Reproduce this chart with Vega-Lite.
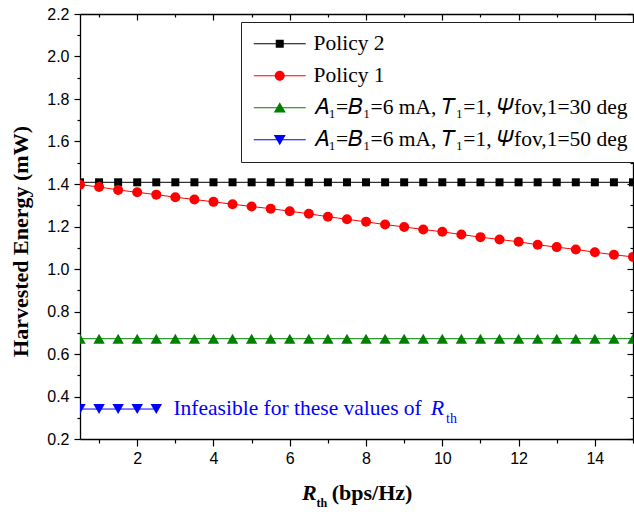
{
  "$schema": "https://vega.github.io/schema/vega-lite/v6.json",
  "width": 553,
  "height": 425,
  "autosize": {"type": "none"},
  "padding": {"left": 80, "top": 14, "right": 1, "bottom": 73},
  "background": "white",
  "config": {
    "view": {"stroke": null},
    "axis": {
      "grid": false,
      "domainColor": "black",
      "domainWidth": 1.3,
      "tickColor": "black",
      "tickWidth": 1.2,
      "labelFont": "Liberation Sans",
      "labelFontSize": 16,
      "labelColor": "black",
      "labelFlush": false,
      "labelOverlap": false
    }
  },
  "datasets": {
    "main": [
      {"s": "Policy 2", "x": 0.5, "y": 1.408}, {"s": "Policy 2", "x": 1, "y": 1.408}, {"s": "Policy 2", "x": 1.5, "y": 1.408}, {"s": "Policy 2", "x": 2, "y": 1.408}, {"s": "Policy 2", "x": 2.5, "y": 1.408}, {"s": "Policy 2", "x": 3, "y": 1.408}, {"s": "Policy 2", "x": 3.5, "y": 1.408}, {"s": "Policy 2", "x": 4, "y": 1.408}, {"s": "Policy 2", "x": 4.5, "y": 1.408}, {"s": "Policy 2", "x": 5, "y": 1.408}, {"s": "Policy 2", "x": 5.5, "y": 1.408}, {"s": "Policy 2", "x": 6, "y": 1.408}, {"s": "Policy 2", "x": 6.5, "y": 1.408}, {"s": "Policy 2", "x": 7, "y": 1.408}, {"s": "Policy 2", "x": 7.5, "y": 1.408}, {"s": "Policy 2", "x": 8, "y": 1.408}, {"s": "Policy 2", "x": 8.5, "y": 1.408}, {"s": "Policy 2", "x": 9, "y": 1.408}, {"s": "Policy 2", "x": 9.5, "y": 1.408}, {"s": "Policy 2", "x": 10, "y": 1.408}, {"s": "Policy 2", "x": 10.5, "y": 1.408}, {"s": "Policy 2", "x": 11, "y": 1.408}, {"s": "Policy 2", "x": 11.5, "y": 1.408}, {"s": "Policy 2", "x": 12, "y": 1.408}, {"s": "Policy 2", "x": 12.5, "y": 1.408}, {"s": "Policy 2", "x": 13, "y": 1.408}, {"s": "Policy 2", "x": 13.5, "y": 1.408}, {"s": "Policy 2", "x": 14, "y": 1.408}, {"s": "Policy 2", "x": 14.5, "y": 1.408}, {"s": "Policy 2", "x": 15, "y": 1.408},
      {"s": "Policy 1", "x": 0.5, "y": 1.397}, {"s": "Policy 1", "x": 1, "y": 1.386}, {"s": "Policy 1", "x": 1.5, "y": 1.372}, {"s": "Policy 1", "x": 2, "y": 1.361}, {"s": "Policy 1", "x": 2.5, "y": 1.35}, {"s": "Policy 1", "x": 3, "y": 1.338}, {"s": "Policy 1", "x": 3.5, "y": 1.327}, {"s": "Policy 1", "x": 4, "y": 1.316}, {"s": "Policy 1", "x": 4.5, "y": 1.305}, {"s": "Policy 1", "x": 5, "y": 1.294}, {"s": "Policy 1", "x": 5.5, "y": 1.284}, {"s": "Policy 1", "x": 6, "y": 1.272}, {"s": "Policy 1", "x": 6.5, "y": 1.26}, {"s": "Policy 1", "x": 7, "y": 1.246}, {"s": "Policy 1", "x": 7.5, "y": 1.234}, {"s": "Policy 1", "x": 8, "y": 1.222}, {"s": "Policy 1", "x": 8.5, "y": 1.209}, {"s": "Policy 1", "x": 9, "y": 1.198}, {"s": "Policy 1", "x": 9.5, "y": 1.186}, {"s": "Policy 1", "x": 10, "y": 1.175}, {"s": "Policy 1", "x": 10.5, "y": 1.162}, {"s": "Policy 1", "x": 11, "y": 1.15}, {"s": "Policy 1", "x": 11.5, "y": 1.139}, {"s": "Policy 1", "x": 12, "y": 1.128}, {"s": "Policy 1", "x": 12.5, "y": 1.114}, {"s": "Policy 1", "x": 13, "y": 1.103}, {"s": "Policy 1", "x": 13.5, "y": 1.092}, {"s": "Policy 1", "x": 14, "y": 1.079}, {"s": "Policy 1", "x": 14.5, "y": 1.067}, {"s": "Policy 1", "x": 15, "y": 1.057},
      {"s": "𝐴₁=𝐵₁=6 mA, 𝑇₁=1, 𝛹fov,1=30 deg", "x": 0.5, "y": 0.672}, {"s": "𝐴₁=𝐵₁=6 mA, 𝑇₁=1, 𝛹fov,1=30 deg", "x": 1, "y": 0.672}, {"s": "𝐴₁=𝐵₁=6 mA, 𝑇₁=1, 𝛹fov,1=30 deg", "x": 1.5, "y": 0.672}, {"s": "𝐴₁=𝐵₁=6 mA, 𝑇₁=1, 𝛹fov,1=30 deg", "x": 2, "y": 0.672}, {"s": "𝐴₁=𝐵₁=6 mA, 𝑇₁=1, 𝛹fov,1=30 deg", "x": 2.5, "y": 0.672}, {"s": "𝐴₁=𝐵₁=6 mA, 𝑇₁=1, 𝛹fov,1=30 deg", "x": 3, "y": 0.672}, {"s": "𝐴₁=𝐵₁=6 mA, 𝑇₁=1, 𝛹fov,1=30 deg", "x": 3.5, "y": 0.672}, {"s": "𝐴₁=𝐵₁=6 mA, 𝑇₁=1, 𝛹fov,1=30 deg", "x": 4, "y": 0.672}, {"s": "𝐴₁=𝐵₁=6 mA, 𝑇₁=1, 𝛹fov,1=30 deg", "x": 4.5, "y": 0.672}, {"s": "𝐴₁=𝐵₁=6 mA, 𝑇₁=1, 𝛹fov,1=30 deg", "x": 5, "y": 0.672}, {"s": "𝐴₁=𝐵₁=6 mA, 𝑇₁=1, 𝛹fov,1=30 deg", "x": 5.5, "y": 0.672}, {"s": "𝐴₁=𝐵₁=6 mA, 𝑇₁=1, 𝛹fov,1=30 deg", "x": 6, "y": 0.672}, {"s": "𝐴₁=𝐵₁=6 mA, 𝑇₁=1, 𝛹fov,1=30 deg", "x": 6.5, "y": 0.672}, {"s": "𝐴₁=𝐵₁=6 mA, 𝑇₁=1, 𝛹fov,1=30 deg", "x": 7, "y": 0.672}, {"s": "𝐴₁=𝐵₁=6 mA, 𝑇₁=1, 𝛹fov,1=30 deg", "x": 7.5, "y": 0.672}, {"s": "𝐴₁=𝐵₁=6 mA, 𝑇₁=1, 𝛹fov,1=30 deg", "x": 8, "y": 0.672}, {"s": "𝐴₁=𝐵₁=6 mA, 𝑇₁=1, 𝛹fov,1=30 deg", "x": 8.5, "y": 0.672}, {"s": "𝐴₁=𝐵₁=6 mA, 𝑇₁=1, 𝛹fov,1=30 deg", "x": 9, "y": 0.672}, {"s": "𝐴₁=𝐵₁=6 mA, 𝑇₁=1, 𝛹fov,1=30 deg", "x": 9.5, "y": 0.672}, {"s": "𝐴₁=𝐵₁=6 mA, 𝑇₁=1, 𝛹fov,1=30 deg", "x": 10, "y": 0.672}, {"s": "𝐴₁=𝐵₁=6 mA, 𝑇₁=1, 𝛹fov,1=30 deg", "x": 10.5, "y": 0.672}, {"s": "𝐴₁=𝐵₁=6 mA, 𝑇₁=1, 𝛹fov,1=30 deg", "x": 11, "y": 0.672}, {"s": "𝐴₁=𝐵₁=6 mA, 𝑇₁=1, 𝛹fov,1=30 deg", "x": 11.5, "y": 0.672}, {"s": "𝐴₁=𝐵₁=6 mA, 𝑇₁=1, 𝛹fov,1=30 deg", "x": 12, "y": 0.672}, {"s": "𝐴₁=𝐵₁=6 mA, 𝑇₁=1, 𝛹fov,1=30 deg", "x": 12.5, "y": 0.672}, {"s": "𝐴₁=𝐵₁=6 mA, 𝑇₁=1, 𝛹fov,1=30 deg", "x": 13, "y": 0.672}, {"s": "𝐴₁=𝐵₁=6 mA, 𝑇₁=1, 𝛹fov,1=30 deg", "x": 13.5, "y": 0.672}, {"s": "𝐴₁=𝐵₁=6 mA, 𝑇₁=1, 𝛹fov,1=30 deg", "x": 14, "y": 0.672}, {"s": "𝐴₁=𝐵₁=6 mA, 𝑇₁=1, 𝛹fov,1=30 deg", "x": 14.5, "y": 0.672}, {"s": "𝐴₁=𝐵₁=6 mA, 𝑇₁=1, 𝛹fov,1=30 deg", "x": 15, "y": 0.672},
      {"s": "𝐴₁=𝐵₁=6 mA, 𝑇₁=1, 𝛹fov,1=50 deg", "x": 0.5, "y": 0.341}, {"s": "𝐴₁=𝐵₁=6 mA, 𝑇₁=1, 𝛹fov,1=50 deg", "x": 1, "y": 0.341}, {"s": "𝐴₁=𝐵₁=6 mA, 𝑇₁=1, 𝛹fov,1=50 deg", "x": 1.5, "y": 0.341}, {"s": "𝐴₁=𝐵₁=6 mA, 𝑇₁=1, 𝛹fov,1=50 deg", "x": 2, "y": 0.341}, {"s": "𝐴₁=𝐵₁=6 mA, 𝑇₁=1, 𝛹fov,1=50 deg", "x": 2.5, "y": 0.341}
    ]
  },
  "data": {"name": "main"},
  "layer": [
    {
      "mark": {"type": "line", "strokeWidth": 1, "clip": true},
      "encoding": {
        "x": {
          "field": "x", "type": "quantitative",
          "scale": {"domain": [0.5, 15], "nice": false, "zero": false},
          "axis": {
            "orient": "bottom",
            "values": [1, 2, 3, 4, 5, 6, 7, 8, 9, 10, 11, 12, 13, 14, 15],
            "labelExpr": "round(datum.value) % 2 === 0 ? datum.label : ''",
            "tickSize": {"condition": {"test": "round(datum.value) % 2 === 0", "value": 7}, "value": 4},
            "labelPadding": 4,
            "title": null
          }
        },
        "y": {
          "field": "y", "type": "quantitative",
          "scale": {"domain": [0.2, 2.2], "nice": false, "zero": false},
          "axis": {
            "orient": "left",
            "values": [0.2, 0.3, 0.4, 0.5, 0.6, 0.7, 0.8, 0.9, 1.0, 1.1, 1.2, 1.3, 1.4, 1.5, 1.6, 1.7, 1.8, 1.9, 2.0, 2.1, 2.2],
            "labelExpr": "round(datum.value * 10) % 2 === 0 ? format(datum.value, '.1f') : ''",
            "tickSize": {"condition": {"test": "round(datum.value * 10) % 2 === 0", "value": 6}, "value": 3},
            "labelPadding": 5,
            "title": "Harvested Energy (mW)",
            "titleFont": "Liberation Serif",
            "titleFontSize": 22,
            "titleFontWeight": "bold",
            "titleColor": "black",
            "titleAngle": -90,
            "titleAlign": "center",
            "titleBaseline": "middle",
            "titleX": -60,
            "titleY": 227
          }
        },
        "color": {
          "field": "s", "type": "nominal",
          "scale": {
            "domain": ["Policy 2", "Policy 1", "𝐴₁=𝐵₁=6 mA, 𝑇₁=1, 𝛹fov,1=30 deg", "𝐴₁=𝐵₁=6 mA, 𝑇₁=1, 𝛹fov,1=50 deg"],
            "range": ["#000000", "#FF0000", "#008000", "#0000FF"]
          },
          "legend": {
            "orient": "none",
            "legendX": 161,
            "legendY": 8,
            "title": null,
            "direction": "vertical",
            "padding": 11,
            "strokeColor": "#222222",
            "fillColor": "white",
            "labelFont": "Liberation Serif",
            "labelFontSize": 21.5,
            "labelColor": "black",
            "labelLimit": 500,
            "labelOffset": 23,
            "symbolOffset": 17,
            "symbolSize": 100,
            "symbolStrokeWidth": 0,
            "symbolOpacity": 1,
            "rowPadding": 9
          }
        }
      }
    },
    {
      "mark": {"type": "point", "filled": true, "opacity": 0},
      "encoding": {
        "x": {
          "field": "x", "type": "quantitative",
          "axis": {
            "orient": "top",
            "values": [1, 2, 3, 4, 5, 6, 7, 8, 9, 10, 11, 12, 13, 14, 15],
            "labels": false,
            "tickSize": {"condition": {"test": "round(datum.value) % 2 === 0", "value": -6}, "value": -3},
            "title": null
          }
        },
        "y": {
          "field": "y", "type": "quantitative",
          "axis": {
            "orient": "right",
            "values": [0.2, 0.3, 0.4, 0.5, 0.6, 0.7, 0.8, 0.9, 1.0, 1.1, 1.2, 1.3, 1.4, 1.5, 1.6, 1.7, 1.8, 1.9, 2.0, 2.1, 2.2],
            "labels": false,
            "tickSize": {"condition": {"test": "round(datum.value * 10) % 2 === 0", "value": -6}, "value": -3},
            "title": null
          }
        },
        "color": {"field": "s", "type": "nominal"},
        "shape": {
          "field": "s", "type": "nominal",
          "scale": {
            "domain": ["Policy 2", "Policy 1", "𝐴₁=𝐵₁=6 mA, 𝑇₁=1, 𝛹fov,1=30 deg", "𝐴₁=𝐵₁=6 mA, 𝑇₁=1, 𝛹fov,1=50 deg"],
            "range": [
              "M-5.2,-0.1H5.2V0.1H-5.2ZM-0.8,-0.8H0.8V0.8H-0.8Z",
              "M-5.2,-0.1H5.2V0.1H-5.2ZM1,0A1,1 0 1 1 -1,0A1,1 0 1 1 1,0Z",
              "M-5.2,-0.1H5.2V0.1H-5.2ZM0,-1.1L1.2,0.95H-1.2Z",
              "M-5.2,-0.1H5.2V0.1H-5.2ZM0,1.1L-1.2,-0.95H1.2Z"
            ]
          },
          "legend": null
        }
      }
    },
    {
      "transform": [{"filter": "datum.s === 'Policy 2'"}],
      "mark": {"type": "point", "shape": "square", "size": 64, "filled": true, "color": "#000000", "opacity": 1, "clip": true},
      "encoding": {
        "x": {"field": "x", "type": "quantitative", "axis": null},
        "y": {"field": "y", "type": "quantitative", "axis": null}
      }
    },
    {
      "transform": [{"filter": "datum.s === 'Policy 1'"}],
      "mark": {"type": "point", "shape": "circle", "size": 100, "filled": true, "color": "#FF0000", "opacity": 1, "clip": true},
      "encoding": {
        "x": {"field": "x", "type": "quantitative", "axis": null},
        "y": {"field": "y", "type": "quantitative", "axis": null}
      }
    },
    {
      "transform": [{"filter": "indexof(datum.s, '30 deg') >= 0"}],
      "mark": {"type": "point", "shape": "triangle-up", "size": 130, "filled": true, "color": "#008000", "opacity": 1, "clip": true},
      "encoding": {
        "x": {"field": "x", "type": "quantitative", "axis": null},
        "y": {"field": "y", "type": "quantitative", "axis": null}
      }
    },
    {
      "transform": [{"filter": "indexof(datum.s, '50 deg') >= 0"}],
      "mark": {"type": "point", "shape": "triangle-down", "size": 130, "filled": true, "color": "#0000FF", "opacity": 1, "clip": true},
      "encoding": {
        "x": {"field": "x", "type": "quantitative", "axis": null},
        "y": {"field": "y", "type": "quantitative", "axis": null}
      }
    },
    {
      "data": {"values": [{}]},
      "mark": {"type": "text", "text": "Infeasible for these values of", "font": "Liberation Serif", "fontSize": 21.5, "color": "#0000FF", "align": "left", "baseline": "alphabetic"},
      "encoding": {
        "x": {"datum": 2.95, "type": "quantitative", "axis": null},
        "y": {"datum": 0.313, "type": "quantitative", "axis": null}
      }
    },
    {
      "data": {"values": [{}]},
      "mark": {"type": "text", "text": "R", "font": "Liberation Serif", "fontSize": 22, "fontStyle": "italic", "color": "#0000FF", "align": "left", "baseline": "alphabetic"},
      "encoding": {
        "x": {"datum": 9.7, "type": "quantitative", "axis": null},
        "y": {"datum": 0.313, "type": "quantitative", "axis": null}
      }
    },
    {
      "data": {"values": [{}]},
      "mark": {"type": "text", "text": "th", "font": "Liberation Serif", "fontSize": 14, "color": "#0000FF", "align": "left", "baseline": "alphabetic"},
      "encoding": {
        "x": {"datum": 10.1, "type": "quantitative", "axis": null},
        "y": {"datum": 0.275, "type": "quantitative", "axis": null}
      }
    },
    {
      "data": {"values": [{}]},
      "mark": {"type": "text", "text": "R", "font": "Liberation Serif", "fontSize": 22, "fontWeight": "bold", "fontStyle": "italic", "color": "black", "align": "left", "baseline": "alphabetic", "dy": 61},
      "encoding": {
        "x": {"datum": 6.32, "type": "quantitative", "axis": null},
        "y": {"datum": 0.2, "type": "quantitative", "axis": null}
      }
    },
    {
      "data": {"values": [{}]},
      "mark": {"type": "text", "text": "th", "font": "Liberation Serif", "fontSize": 12, "fontWeight": "bold", "color": "black", "align": "left", "baseline": "alphabetic", "dy": 68},
      "encoding": {
        "x": {"datum": 6.7, "type": "quantitative", "axis": null},
        "y": {"datum": 0.2, "type": "quantitative", "axis": null}
      }
    },
    {
      "data": {"values": [{}]},
      "mark": {"type": "text", "text": "(bps/Hz)", "font": "Liberation Serif", "fontSize": 22, "fontWeight": "bold", "color": "black", "align": "left", "baseline": "alphabetic", "dy": 61},
      "encoding": {
        "x": {"datum": 7.1, "type": "quantitative", "axis": null},
        "y": {"datum": 0.2, "type": "quantitative", "axis": null}
      }
    }
  ],
  "resolve": {
    "axis": {"x": "independent", "y": "independent"}
  }
}
